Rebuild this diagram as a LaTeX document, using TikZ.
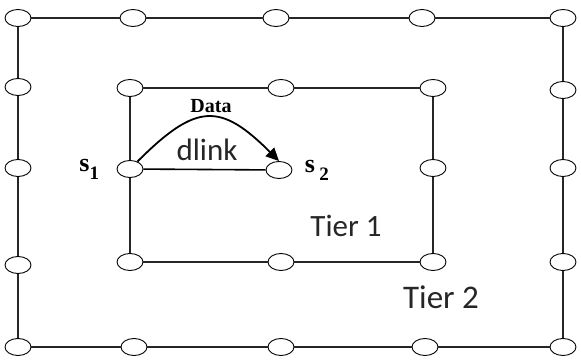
\documentclass[tikz,border=0pt]{standalone}
\usepackage{fontspec}
\setmainfont{Liberation Serif}
\newfontfamily\tierfont{Carlito}
\usepackage{tikz}
\usetikzlibrary{shapes.geometric}
\usetikzlibrary{arrows.meta}

\newcommand{\sensorname}[2]{s#1\raisebox{-0.3em}{\fontsize{19}{19}\selectfont #2}}

\begin{document}
\begin{tikzpicture}[x=1pt,y=1pt]
\tikzset{sensor/.style={draw,ellipse,minimum width=26pt,minimum height=17pt,inner sep=0pt,fill=white,line width=0.9pt}}
\tikzset{tierlabel/.style={font=\tierfont\fontsize{31}{31}\selectfont,text=black!85}}
\useasboundingbox (0,0) rectangle (581,359);
% tier 2
\node (p1) at (18,341) [sensor] {};
\node (p2) at (133,341) [sensor] {};
\node (p3) at (276,341) [sensor] {};
\node (p4) at (422,341) [sensor] {};
\node (p5) at (563,341) [sensor] {};
\node (p6) at (563,269) [sensor] {};
\node (p7) at (563,191) [sensor] {};
\node (p8) at (563,97) [sensor] {};
\node (p9) at (563,12) [sensor] {};
\node (p10) at (425,12) [sensor] {};
\node (p11) at (281,12) [sensor] {};
\node (p12) at (134,12) [sensor] {};
\node (p13) at (18,12) [sensor] {};
\node (p14) at (18,94) [sensor] {};
\node (p15) at (18,191) [sensor] {};
\node (p16) at (18,272) [sensor] {};
% tier 1
\node (q1) at (130,271) [sensor] {};
\node (q2) at (281,271) [sensor] {};
\node (q3) at (433,271) [sensor] {};
\node (q4) at (433,191) [sensor] {};
\node (q5) at (433,97) [sensor] {};
\node (q6) at (281,97) [sensor] {};
\node (q7) at (130,97) [sensor] {};
\node (s1) at (130,190) [sensor,label={[label distance=14pt,font=\bfseries\fontsize{26}{26}\selectfont]180:{\sensorname{}{1}}}] {};
\node (s2) at (279,189) [sensor,label={[label distance=9pt,font=\bfseries\fontsize{26}{26}\selectfont]0:{\sensorname{\,}{2}}}] {};

\node (data) at (211,253) [font=\bfseries\fontsize{20}{20}\selectfont] {Data};
\node (dlink) at (207,209) [tierlabel] {dlink};
\node (tier1) at (346,133) [tierlabel] {Tier 1};
\node (tier2) at (441,62) [tierlabel,font=\tierfont\fontsize{33}{33}\selectfont] {Tier 2};

\path[line width=1.2pt, black!85]
(p1) edge [-] (p2)
(p2) edge [-] (p3)
(p3) edge [-] (p4)
(p4) edge [-] (p5)
(p5) edge [-] (p6)
(p6) edge [-] (p7)
(p7) edge [-] (p8)
(p8) edge [-] (p9)
(p9) edge [-] (p10)
(p10) edge [-] (p11)
(p11) edge [-] (p12)
(p12) edge [-] (p13)
(p13) edge [-] (p14)
(p14) edge [-] (p15)
(p15) edge [-] (p16)
(p16) edge [-] (p1)
(q1) edge [-] (q2)
(q2) edge [-] (q3)
(q3) edge [-] (q4)
(q4) edge [-] (q5)
(q5) edge [-] (q6)
(q6) edge [-] (q7)
(q7) edge [-] (s1)
(s1) edge [-] (q1);

\path
(s1) edge [-, black, line width=1.6pt] (s2)
(s1) edge [-{Triangle[length=13pt,width=12pt]}, black, line width=1.8pt, out=45, in=135, looseness=1.5] (s2.north);
\end{tikzpicture}
\end{document}
